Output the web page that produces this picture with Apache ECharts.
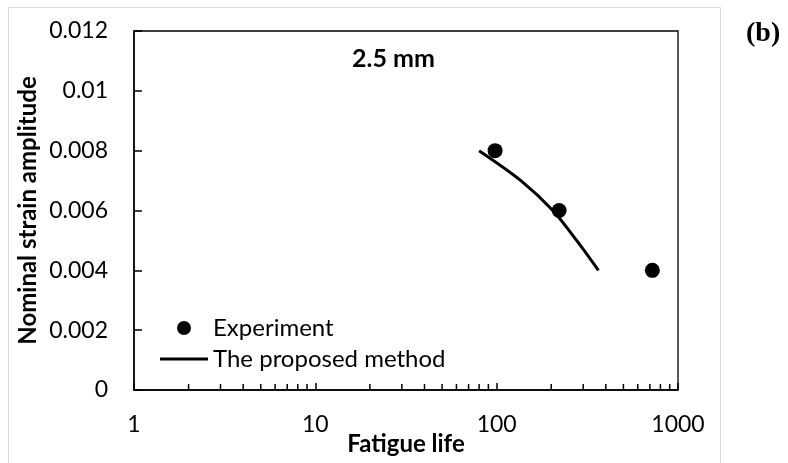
<!DOCTYPE html>
<html>
<head>
<meta charset="utf-8">
<script src="https://cdn.jsdelivr.net/npm/echarts@6/dist/echarts.min.js"></script>
<style>
  html, body { margin: 0; padding: 0; background: #fff; }
  #chart { width: 788px; height: 463px; }
</style>
</head>
<body>
<div id="chart"></div>
<script>
  // 实验数据 (fatigue life, strain amplitude)
  const expLife = [98, 221, 722];
  const expStrain = [0.008, 0.006, 0.004];
  // 计算曲线
  const methodLife = [80, 136, 204, 276, 364];
  const methodStrain = [0.008, 0.007, 0.006, 0.005, 0.004];
  // log 轴的小刻度
  const minorTicks = [2, 3, 4, 5, 6, 7, 8, 9, 20, 30, 40, 50, 60, 70, 80, 90, 200, 300, 400, 500, 600, 700, 800, 900];
  const yTicks = [0, 0.002, 0.004, 0.006, 0.008, 0.01, 0.012];

  const font = "Lato, 'Open Sans', sans-serif";
  const myEcharts = echarts.init(document.getElementById('chart'));

  let option = {
    backgroundColor: '#fff',
    animation: false,
    textStyle: { fontFamily: font, color: '#000' },
    graphic: [
      {
        type: 'rect',
        shape: { x: 8.5, y: 7.5, width: 712, height: 470 },
        style: { fill: 'none', stroke: '#d9d9d9', lineWidth: 1 },
        silent: true
      },
      {
        type: 'text',
        left: 746, top: 20,
        style: { text: '(b)', font: "bold 28px 'Liberation Serif', serif", fill: '#000' }
      },
      {
        type: 'text',
        left: 352, top: 46,
        style: { text: '2.5 mm', font: 'bold 25px ' + font, fill: '#000' }
      }
    ],
    legend: {
      orient: 'vertical',
      left: 160,
      top: 316,
      padding: 0,
      itemWidth: 48,
      itemHeight: 14,
      itemGap: 7,
      selectedMode: false,
      textStyle: { fontFamily: font, fontSize: 24, color: '#000' },
      data: [
        { name: 'Experiment', icon: 'circle' },
        { name: 'The proposed method', icon: 'path://M0,0M0,5.5H48V8.5H0ZM48,14' }
      ]
    },
    grid: {
      left: 134,
      right: 110,
      top: 31,
      bottom: 73,
      show: true,
      borderColor: '#000',
      borderWidth: 1.3,
      containLabel: false,
      outerBoundsMode: 'none'
    },
    xAxis: {
      type: 'log',
      logBase: 10,
      min: 1,
      max: 1000,
      name: 'Fatigue life',
      nameLocation: 'middle',
      nameGap: 42,
      nameMoveOverlap: false,
      nameTextStyle: { fontFamily: font, fontSize: 24, fontWeight: 'bold', color: '#000' },
      axisLine: { lineStyle: { color: '#000', width: 1.5 } },
      axisTick: { inside: true, length: 7, lineStyle: { color: '#000', width: 1.5 } },
      axisLabel: {
        margin: 23, fontFamily: font, fontSize: 23, color: '#000',
        formatter: function (v) { return String(Math.round(v)); }
      },
      splitLine: { show: false }
    },
    yAxis: {
      type: 'value',
      min: 0,
      max: 0.012,
      interval: 0.002,
      name: 'Nominal strain amplitude',
      nameLocation: 'middle',
      nameGap: 94,
      nameMoveOverlap: false,
      nameTextStyle: { fontFamily: font, fontSize: 24, fontWeight: 'bold', color: '#000' },
      axisLine: { show: true, lineStyle: { color: '#000', width: 1.5 } },
      axisTick: { show: true, inside: true, length: 8, lineStyle: { color: '#000', width: 1.5 } },
      axisLabel: {
        margin: 26, fontFamily: font, fontSize: 23, color: '#000',
        formatter: function (v) { return yTicks.indexOf(+v.toFixed(3)) >= 0 ? String(+v.toFixed(3)) : ''; }
      },
      splitLine: { show: false }
    },
    series: [
      {
        name: 'Experiment',
        type: 'scatter',
        symbol: 'circle',
        symbolSize: 15,
        itemStyle: { color: '#000', opacity: 1 },
        data: expLife.map((x, i) => [x, expStrain[i]]),
        z: 3
      },
      {
        name: 'The proposed method',
        type: 'line',
        smooth: 0.3,
        symbol: 'none',
        lineStyle: { color: '#000', width: 3 },
        itemStyle: { color: '#000' },
        data: methodLife.map((x, i) => [x, methodStrain[i]]),
        z: 2
      },
      {
        // 小刻度线
        type: 'custom',
        silent: true,
        data: minorTicks.map(v => [v, 0]),
        renderItem: function (params, api) {
          const p = api.coord([api.value(0), 0]);
          return {
            type: 'line',
            shape: { x1: p[0], y1: p[1], x2: p[0], y2: p[1] - 6 },
            style: { stroke: '#000', lineWidth: 1.5 }
          };
        }
      }
    ]
  };
  myEcharts.setOption(option);
</script>
</body>
</html>
